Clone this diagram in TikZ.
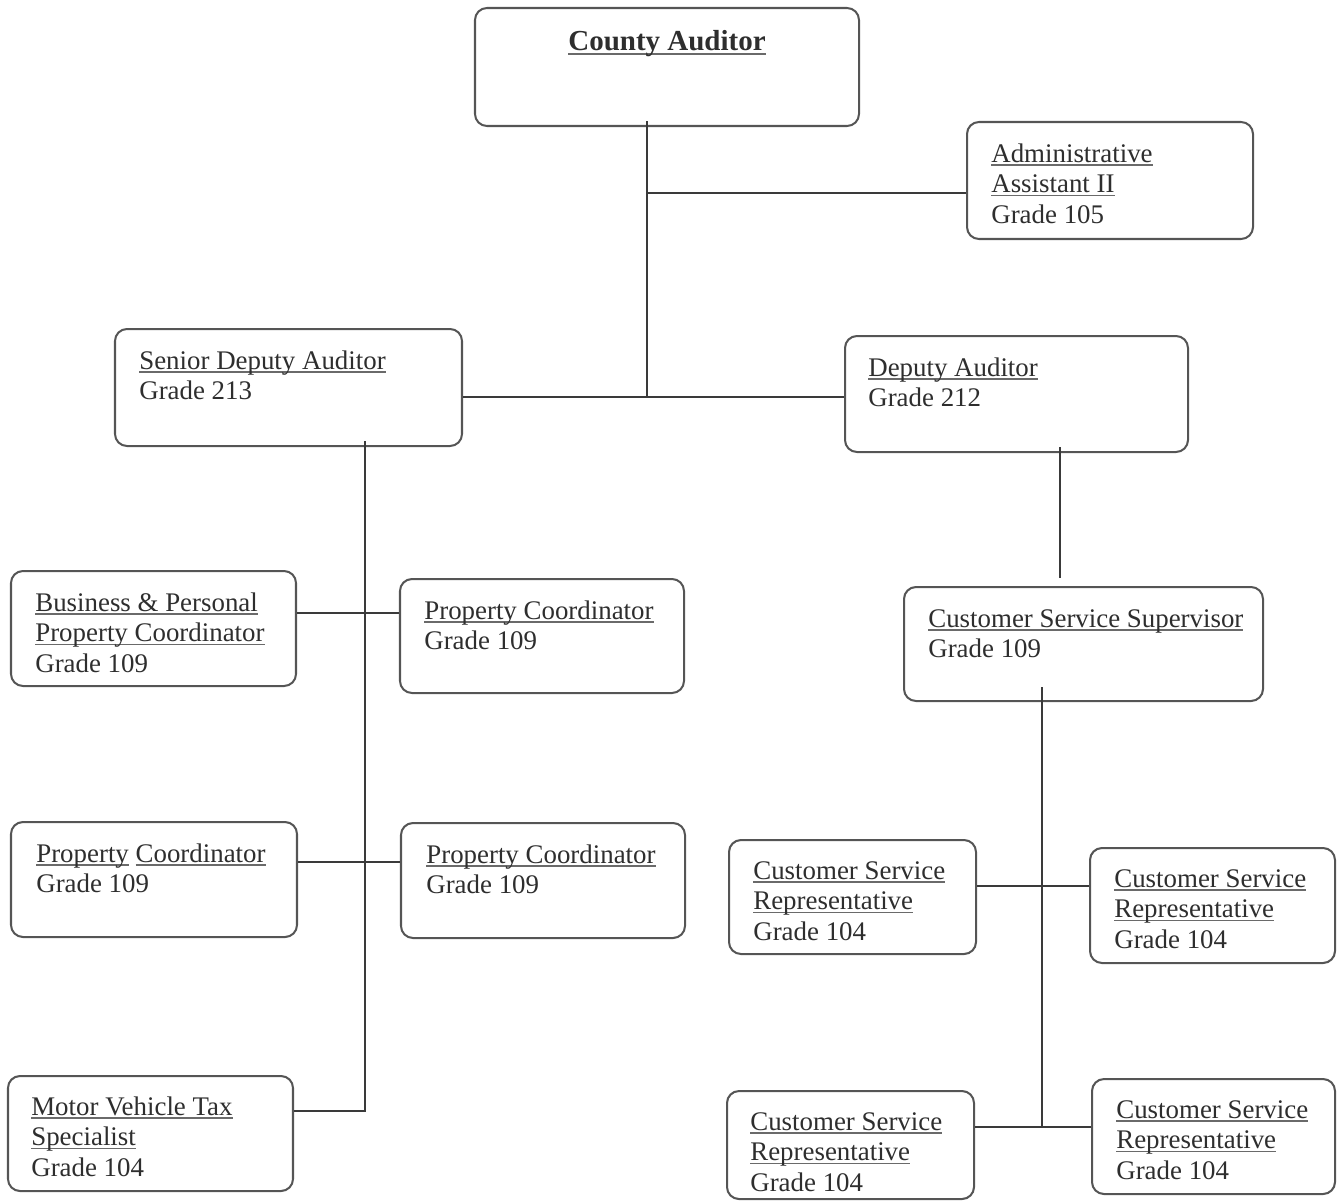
\documentclass[tikz,border=0pt]{standalone}
\usepackage{fontspec}
\setmainfont{Liberation Serif}
\usetikzlibrary{fit}

\definecolor{boxline}{HTML}{555555}
\definecolor{linkline}{HTML}{3A3A3A}
\definecolor{txtcol}{HTML}{2E2E2E}
\definecolor{ulcol}{HTML}{6A6A6A}

% grey underline used for the position titles
\newsavebox\ulbox
\newcommand\uln[1]{\sbox\ulbox{#1}\rlap{\textcolor{ulcol}{\rule[-2.1pt]{\wd\ulbox}{1pt}}}\usebox\ulbox}
\newcommand\ulnb[1]{\sbox\ulbox{#1}\rlap{\textcolor{ulcol}{\rule[-3pt]{\wd\ulbox}{1.5pt}}}\usebox\ulbox}
% stacked lines, baseline on the first line
\newcommand\lines[1]{\begin{tabular}[t]{@{}l@{}}#1\end{tabular}}

\tikzset{
  box/.style={draw=boxline, line width=1.15pt, rounded corners=0.24cm, inner sep=0pt},
  txt/.style={anchor=base west, inner sep=0pt, text=txtcol,
              font=\fontsize{15.3pt}{17.4pt}\selectfont},
  headtxt/.style={anchor=base, inner sep=0pt, text=txtcol,
              font=\fontsize{16.5pt}{19pt}\selectfont\bfseries},
  link/.style={draw=linkline, line width=0.85pt}
}

\begin{document}
\begin{tikzpicture}[x=0.02cm, y=-0.02cm]
\useasboundingbox (0,0) rectangle (1337,1201);

% ---- boxes ----
\node[box, fit={(475,8)(859,126)}]     (ca)   {};
\node[box, fit={(967,122)(1253,239)}]  (aa)   {};
\node[box, fit={(115,329)(462,446)}]   (sda)  {};
\node[box, fit={(845,336)(1188,452)}]  (da)   {};
\node[box, fit={(11,571)(296,686)}]    (bp)   {};
\node[box, fit={(400,579)(684,693)}]   (pc1)  {};
\node[box, fit={(904,587)(1263,701)}]  (css)  {};
\node[box, fit={(11,822)(297,937)}]    (pc2)  {};
\node[box, fit={(401,823)(685,938)}]   (pc3)  {};
\node[box, fit={(729,840)(976,954)}]   (csr1) {};
\node[box, fit={(1090,848)(1335,963)}] (csr2) {};
\node[box, fit={(8,1076)(293,1191)}]   (mv)   {};
\node[box, fit={(727,1091)(974,1199)}] (csr3) {};
\node[box, fit={(1092,1079)(1335,1194)}] (csr4) {};

% ---- texts ----
\node[headtxt] (cat) at (667,50) {\ulnb{County Auditor}};
\node[txt] (aat) at (991,162) {\lines{\uln{Administrative}\\ \uln{Assistant II}\\ Grade 105}};
\node[txt] (sdat) at (139,369) {\lines{\uln{Senior Deputy Auditor}\\ Grade 213}};
\node[txt] (dat) at (868,376) {\lines{\uln{Deputy Auditor}\\ Grade 212}};
\node[txt] (bpt) at (35,611) {\lines{\uln{Business \& Personal}\\ \uln{Property Coordinator}\\ Grade 109}};
\node[txt] (pc1t) at (424,619) {\lines{\uln{Property Coordinator}\\ Grade 109}};
\node[txt] (csst) at (928,627) {\lines{\uln{Customer Service Supervisor}\\ Grade 109}};
\node[txt] (pc2t) at (36,862) {\lines{\uln{Property} \uln{Coordinator}\\ Grade 109}};
\node[txt] (pc3t) at (426,863) {\lines{\uln{Property Coordinator}\\ Grade 109}};
\node[txt] (csr1t) at (753,879) {\lines{\uln{Customer Service}\\ \uln{Representative}\\ Grade 104}};
\node[txt] (csr2t) at (1114,887) {\lines{\uln{Customer Service}\\ \uln{Representative}\\ Grade 104}};
\node[txt] (mvt) at (31,1115) {\lines{\uln{Motor Vehicle Tax}\\ \uln{Specialist}\\ Grade 104}};
\node[txt] (csr3t) at (750,1130) {\lines{\uln{Customer Service}\\ \uln{Representative}\\ Grade 104}};
\node[txt] (csr4t) at (1116,1118) {\lines{\uln{Customer Service}\\ \uln{Representative}\\ Grade 104}};

% ---- junction points ----
\coordinate (j1) at (647,193);
\coordinate (j2) at (647,397);
\coordinate (s1) at (365,613);
\coordinate (s2) at (365,862);
\coordinate (s3) at (365,1111);
\coordinate (d1) at (1060,500);
\coordinate (c1) at (1042,886);
\coordinate (c2) at (1042,1127);

% ---- connectors ----
\draw[link] ([yshift=0.12cm]ca.south -| j1) -- (j2);
\draw[link] (j1) -- (j1 -| aa.west);
\draw[link] (j2 -| sda.east) -- (j2 -| da.west);

\draw[link] ([yshift=0.12cm]sda.south -| s3) -- (s3) -- (s3 -| mv.east);
\draw[link] (s1 -| bp.east) -- (s1 -| pc1.west);
\draw[link] (s2 -| pc2.east) -- (s2 -| pc3.west);

\draw[link] ([yshift=0.12cm]da.south -| d1) -- ([yshift=0.16cm]css.north -| d1);
\draw[link] ([yshift=0.3cm]css.south -| c2) -- (c2);
\draw[link] (c1 -| csr1.east) -- (c1 -| csr2.west);
\draw[link] (c2 -| csr3.east) -- (c2 -| csr4.west);
\end{tikzpicture}
\end{document}
